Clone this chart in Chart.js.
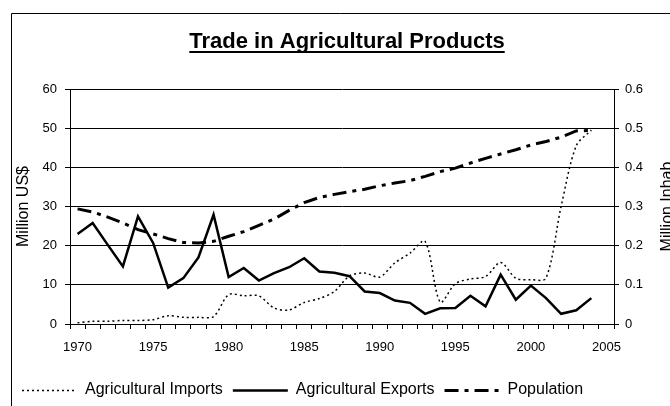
<!DOCTYPE html>
<html>
<head>
<meta charset="utf-8">
<script src="https://cdn.jsdelivr.net/npm/chart.js@4/dist/chart.umd.min.js"></script>
<style>
html, body { margin: 0; padding: 0; background: #fff; }
</style>
</head>
<body>
<canvas id="myChart" width="670" height="406"></canvas>
<script>
const years = [
    "1970", "1971", "1972", "1973", "1974", "1975", "1976", "1977", "1978", "1979",
    "1980", "1981", "1982", "1983", "1984", "1985", "1986", "1987", "1988", "1989",
    "1990", "1991", "1992", "1993", "1994", "1995", "1996", "1997", "1998", "1999",
    "2000", "2001", "2002", "2003", "2004", "2005",
];

// Million US$
const imports_data = [0.3, 0.7, 0.7, 0.9, 0.9, 1.1, 2.1, 1.7, 1.7, 1.9,
    7.5, 7.2, 7.2, 4.1, 3.6, 5.5, 6.5, 8.3, 12.3, 13.0,
    12.0, 15.6, 18.1, 21.1, 5.6, 10.3, 11.5, 12.1, 15.7, 11.7,
    11.3, 11.7, 30.0, 45.5, 49.5];

const exports_data = [23.0, 25.8, 20.2, 14.7, 27.5, 20.7, 9.3, 11.7, 17.0, 27.9,
    12.0, 14.3, 11.1, 13.0, 14.5, 16.8, 13.4, 13.1, 12.2, 8.3,
    7.9, 6.0, 5.4, 2.6, 4.0, 4.1, 7.2, 4.5, 12.6, 6.2,
    9.8, 6.6, 2.6, 3.5, 6.6];

// Million inhabitants
const population_data = [0.294, 0.286, 0.273, 0.258, 0.241, 0.230, 0.218, 0.208, 0.207, 0.211,
    0.224, 0.236, 0.252, 0.268, 0.290, 0.310, 0.323, 0.331, 0.338, 0.344,
    0.353, 0.360, 0.366, 0.377, 0.389, 0.398, 0.411, 0.423, 0.434, 0.445,
    0.457, 0.466, 0.477, 0.493, 0.494];

const SAMPLE_W = 55;
const PLOT_BOTTOM = 324;
const PAD_BOTTOM = -2;

Chart.defaults.font.family = '"Liberation Sans", Arial, sans-serif';
Chart.defaults.color = '#000';

// outer frame, underlined title, right axis title (reads bottom to top), dashed legend samples
const extras = {
    id: 'extras',
    beforeDraw(chart) {
        const ctx = chart.ctx;
        ctx.save();
        ctx.fillStyle = '#fff';
        ctx.fillRect(0, 0, chart.width, chart.height);
        ctx.strokeStyle = '#000';
        ctx.lineWidth = 1;
        ctx.beginPath();
        ctx.moveTo(11.5, chart.height);
        ctx.lineTo(11.5, 13.5);
        ctx.lineTo(chart.width, 13.5);
        ctx.stroke();
        ctx.restore();
    },
    afterDraw(chart) {
        const ctx = chart.ctx;
        ctx.save();
        ctx.fillStyle = '#000';
        ctx.font = 'bold 22px "Liberation Sans", Arial, sans-serif';
        ctx.textAlign = 'center';
        ctx.textBaseline = 'alphabetic';
        const title = 'Trade in Agricultural Products';
        ctx.fillText(title, 347, 48);
        const w = ctx.measureText(title).width;
        ctx.fillRect(347 - w / 2, 51, w, 2);

        // legend line samples with each dataset's dash
        const boxes = chart.legend.legendHitBoxes || [];
        boxes.forEach((hb, i) => {
            const ds = chart.data.datasets[i];
            const y = Math.round(hb.top + hb.height / 2) + 0.5;
            ctx.save();
            ctx.strokeStyle = ds.borderColor;
            ctx.lineWidth = ds.borderWidth;
            ctx.setLineDash(ds.borderDash || []);
            ctx.beginPath();
            ctx.moveTo(hb.left, y);
            ctx.lineTo(hb.left + SAMPLE_W, y);
            ctx.stroke();
            ctx.restore();
        });

        ctx.font = '16px "Liberation Sans", Arial, sans-serif';
        ctx.textAlign = 'center';
        ctx.textBaseline = 'middle';
        ctx.translate(668, (chart.chartArea.top + chart.chartArea.bottom) / 2);
        ctx.rotate(-Math.PI / 2);
        ctx.fillText('Million Inhab', 0, 0);
        ctx.restore();
    }
};

const myChart = new Chart('myChart', {
    type: 'line',
    data: {
        labels: years,
        datasets: [
            {
                label: 'Agricultural Imports',
                data: imports_data,
                borderColor: '#000',
                backgroundColor: '#000',
                borderWidth: 1.5,
                borderDash: [2, 3],
                tension: 0.3,
                pointRadius: 0,
                yAxisID: 'y',
            },
            {
                label: 'Agricultural Exports',
                data: exports_data,
                borderColor: '#000',
                backgroundColor: '#000',
                borderWidth: 2.5,
                tension: 0,
                pointRadius: 0,
                yAxisID: 'y',
            },
            {
                label: 'Population',
                data: population_data,
                borderColor: '#000',
                backgroundColor: '#000',
                borderWidth: 3,
                borderDash: [14, 6, 4, 6],
                tension: 0,
                pointRadius: 0,
                yAxisID: 'y1',
            },
        ]
    },
    options: {
        responsive: false,
        animation: false,
        devicePixelRatio: 1,
        layout: { padding: { left: 12, top: 89, right: 0, bottom: PAD_BOTTOM } },
        plugins: {
            title: { display: false },
            tooltip: { enabled: false },
            legend: {
                position: 'bottom',
                align: 'start',
                labels: {
                    usePointStyle: true,
                    pointStyle: 'line',
                    pointStyleWidth: SAMPLE_W,
                    font: { size: 16 },
                    color: '#000',
                    padding: 10,
                    generateLabels: chart => Chart.defaults.plugins.legend.labels.generateLabels(chart)
                        .map(item => Object.assign(item, { strokeStyle: 'rgba(0,0,0,0)' })),
                }
            }
        },
        scales: {
            x: {
                offset: true,
                grid: { offset: true, drawOnChartArea: false, drawTicks: true, tickLength: 5, color: '#000' },
                border: { color: '#000', width: 1 },
                ticks: {
                    autoSkip: false,
                    maxRotation: 0,
                    font: { size: 13 },
                    padding: 11,
                    callback: function (v) {
                        const l = this.getLabelForValue(v);
                        return (+l) % 5 === 0 ? l : '';
                    }
                },
                afterFit: s => {
                    const lg = s.chart.legend;
                    s.height = s.chart.height - PAD_BOTTOM - (lg ? lg.height : 0) - PLOT_BOTTOM;
                }
            },
            y: {
                position: 'left',
                min: 0,
                max: 60,
                ticks: { stepSize: 10, font: { size: 13 }, padding: 8 },
                grid: { color: '#000', tickLength: 5 },
                border: { color: '#000', width: 1 },
                title: { display: true, text: 'Million US$', font: { size: 16 }, padding: { top: 2, bottom: 0 } },
                afterFit: s => { s.width = 58; }
            },
            y1: {
                position: 'right',
                min: 0,
                max: 0.6,
                ticks: { stepSize: 0.1, font: { size: 13 }, padding: 6, callback: v => +v.toFixed(1) },
                grid: { drawOnChartArea: false, color: '#000', tickLength: 5 },
                border: { color: '#000', width: 1 },
                afterFit: s => { s.width = 56; }
            }
        }
    },
    plugins: [extras]
});
</script>
</body>
</html>
